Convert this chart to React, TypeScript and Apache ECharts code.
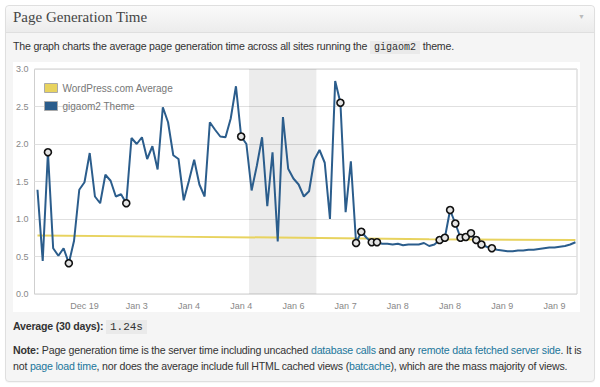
import React, { useEffect, useRef } from "react";
import * as echarts from "echarts";

// gigaom2 theme page generation time (seconds), one value per sample
const themeValues = [
  1.39, 0.44, 1.89, 0.61, 0.51, 0.61, 0.41, 0.71, 1.39, 1.49,
  1.88, 1.30, 1.21, 1.59, 1.51, 1.30, 1.33, 1.21, 2.08, 2.00,
  2.09, 1.80, 1.97, 1.66, 2.49, 2.29, 1.85, 1.80, 1.25, 1.51,
  1.79, 1.46, 1.30, 2.29, 2.19, 2.10, 2.09, 2.34, 2.77, 2.10,
  2.00, 1.38, 1.71, 2.09, 1.17, 1.89, 0.70, 2.36, 1.67, 1.54,
  1.46, 1.30, 1.37, 1.79, 1.92, 1.75, 1.00, 2.84, 2.55, 1.09,
  1.77, 0.68, 0.83, 0.75, 0.69, 0.69, 0.67, 0.67, 0.66, 0.67,
  0.65, 0.66, 0.66, 0.66, 0.68, 0.64, 0.66, 0.72, 0.75, 1.12,
  0.94, 0.75, 0.76, 0.81, 0.72, 0.66, 0.63, 0.61, 0.59, 0.58,
  0.57, 0.57, 0.58, 0.58, 0.59, 0.59, 0.60, 0.61, 0.62, 0.62,
  0.63, 0.64, 0.66, 0.69,
];

// samples highlighted with a ring marker
const markedSamples = [2, 6, 17, 39, 58, 61, 62, 64, 65, 77, 78, 79, 80, 81, 82, 83, 84, 85, 87];

// WordPress.com average (read at a few sample positions)
const averageSamples = [0, 25, 50, 75, 103];
const averageValues = [0.78, 0.765, 0.75, 0.73, 0.72];

// x-axis tick labels and the samples they sit under
const xTickSamples = [9, 19, 29, 39, 49, 59, 69, 79, 89, 99];
const xTickLabels = ["Dec 19", "Jan 3", "Jan 4", "Jan 4", "Jan 6", "Jan 7", "Jan 8", "Jan 8", "Jan 9", "Jan 9"];

// shaded band (sample range)
const shadedBand = [40.5, 53.4];

const seriesNames = ["WordPress.com Average", "gigaom2 Theme"];

const BLUE = "#2b5d8c";
const YELLOW = "#e8d35f";

function Chart() {
  const ref = useRef<HTMLDivElement>(null);
  useEffect(() => {
    if (!ref.current) return;
    const chart = echarts.init(ref.current, null, { renderer: "svg" });
    const marked = new Set(markedSamples);
    chart.setOption({
      animation: false,
      grid: { left: 19, top: 7, right: 3, bottom: 18, show: true, borderColor: "#cfcfcf", borderWidth: 1, backgroundColor: "#fff" },
      legend: {
        orient: "vertical",
        left: 26,
        top: 16,
        itemWidth: 13,
        itemHeight: 9,
        itemGap: 8,
        icon: "rect",
        data: [
          { name: seriesNames[0], itemStyle: { color: YELLOW, borderColor: "#aaa", borderWidth: 1 } },
          { name: seriesNames[1], itemStyle: { color: BLUE, borderColor: "#aaa", borderWidth: 1 } },
        ],
        textStyle: { fontSize: 10, color: "#777", fontFamily: "'Liberation Sans', Arial, sans-serif" },
      },
      xAxis: {
        type: "value",
        min: -0.57,
        max: 103.3,
        axisLine: { show: false },
        axisTick: { show: false },
        splitLine: { show: false },
        axisLabel: {
          customValues: xTickSamples,
          formatter: (v: number) => {
            const k = xTickSamples.indexOf(Math.round(v));
            return k >= 0 ? xTickLabels[k] : "";
          },
          fontSize: 9,
          color: "#888",
          margin: 7,
          fontFamily: "'Liberation Sans', Arial, sans-serif",
        },
      },
      yAxis: {
        type: "value",
        min: 0,
        max: 3,
        interval: 0.5,
        axisLine: { show: false },
        axisTick: { show: false },
        splitLine: { lineStyle: { color: "#e0e0e0", width: 1 } },
        axisLabel: {
          formatter: (v: number) => v.toFixed(1),
          fontSize: 9,
          color: "#888",
          margin: 6,
          fontFamily: "'Liberation Sans', Arial, sans-serif",
        },
      },
      series: [
        {
          name: seriesNames[0],
          type: "line",
          data: averageSamples.map((s, i) => [s, averageValues[i]]),
          showSymbol: false,
          color: YELLOW,
          lineStyle: { color: YELLOW, width: 2 },
          z: 2,
        },
        {
          name: seriesNames[1],
          type: "line",
          data: themeValues.map((v, i) => [i, v]),
          color: BLUE,
          lineStyle: { color: BLUE, width: 2 },
          showSymbol: true,
          showAllSymbol: true,
          symbol: "circle",
          symbolSize: (_v: any, p: any) => (marked.has(p.dataIndex) ? 7 : 0),
          itemStyle: { color: "#e4e4e4", borderColor: "#111", borderWidth: 1.6 },
          z: 3,
          markArea: {
            silent: true,
            itemStyle: { color: "rgba(0,0,0,0.075)" },
            data: [[{ xAxis: shadedBand[0] }, { xAxis: shadedBand[1] }]],
          },
        },
      ],
    });
    return () => chart.dispose();
  }, []);
  return <div ref={ref} style={{ width: 567, height: 250 }} />;
}

const linkStyle: React.CSSProperties = { color: "#21759b", textDecoration: "none" };
const codeStyle: React.CSSProperties = {
  fontFamily: "'Liberation Mono', 'DejaVu Sans Mono', monospace",
  background: "#eaeaea",
  padding: "1px 4px",
  fontSize: 10,
  letterSpacing: 0,
  color: "#333",
};

const bodyText: React.CSSProperties = { fontSize: 10.6, letterSpacing: -0.2, whiteSpace: "nowrap", color: "#333" };

export default function App() {
  return (
    <div
      style={{
        position: "absolute",
        left: 0,
        top: 0,
        width: 600,
        height: 387,
        background: "#fff",
        overflow: "hidden",
        fontFamily: "'Liberation Sans', Arial, sans-serif",
        color: "#333",
      }}
    >
      <div
        style={{
          position: "absolute",
          left: 5,
          top: 5,
          width: 588,
          height: 375,
          border: "1px solid #dfdfdf",
          borderRadius: 4,
          background: "#f5f5f5",
          boxShadow: "0 1px 1px rgba(0,0,0,0.04)",
        }}
      />
      <div
        style={{
          position: "absolute",
          left: 6,
          top: 6,
          width: 588,
          height: 26,
          background: "linear-gradient(#fafafa, #ececec)",
          borderBottom: "1px solid #dfdfdf",
          borderRadius: "4px 4px 0 0",
        }}
      />
      <div
        style={{
          position: "absolute",
          left: 13,
          top: 9,
          fontFamily: "'Liberation Serif', 'DejaVu Serif', serif",
          fontSize: 15,
          color: "#464646",
          whiteSpace: "nowrap",
        }}
      >
        Page Generation Time
      </div>
      <div style={{ position: "absolute", left: 578, top: 13, fontSize: 7, color: "#bbb" }}>▼</div>
      <div style={{ position: "absolute", left: 13, top: 40, ...bodyText }}>
        The graph charts the average page generation time across all sites running the{" "}
        <span style={codeStyle}>gigaom2</span> theme.
      </div>
      <div style={{ position: "absolute", left: 13, top: 62, width: 567, height: 250, background: "#fff" }}>
        <Chart />
      </div>
      <div style={{ position: "absolute", left: 13, top: 320, ...bodyText }}>
        <b>Average (30 days):</b> <span style={{ ...codeStyle, fontSize: 11 }}>1.24s</span>
      </div>
      <div style={{ position: "absolute", left: 13, top: 342, lineHeight: "16px", ...bodyText }}>
        <div>
          <b>Note:</b> Page generation time is the server time including uncached{" "}
          <span style={linkStyle}>database calls</span> and any{" "}
          <span style={linkStyle}>remote data fetched server side</span>. It is
        </div>
        <div>
          not <span style={linkStyle}>page load time</span>, nor does the average include full HTML cached views (
          <span style={linkStyle}>batcache</span>), which are the mass majority of views.
        </div>
      </div>
    </div>
  );
}
